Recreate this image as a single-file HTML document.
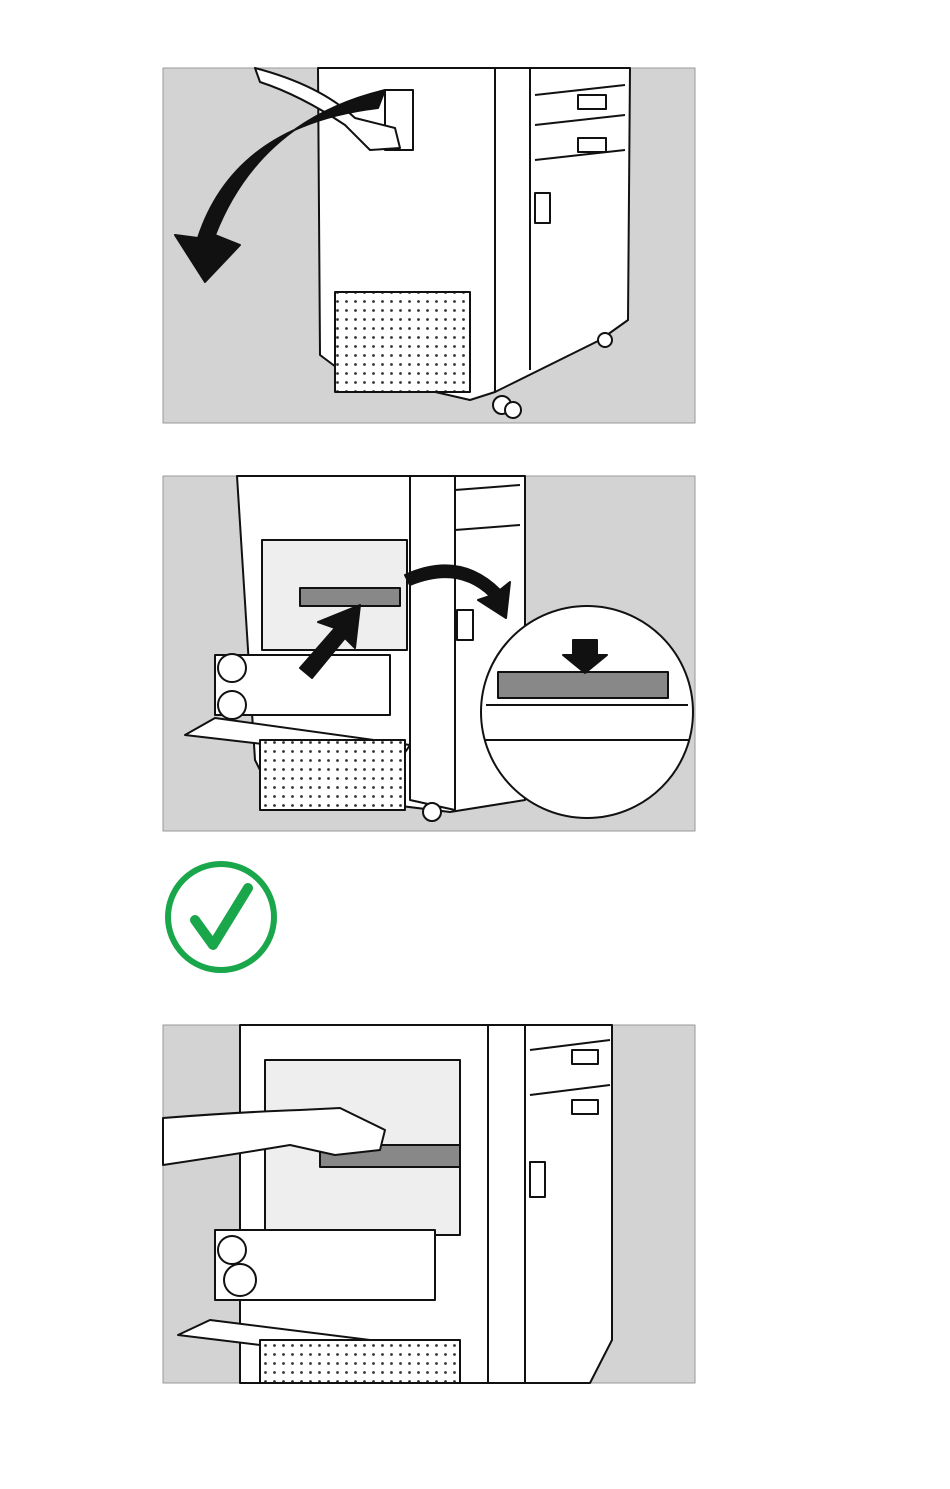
<!DOCTYPE html>
<html><head><meta charset="utf-8"><style>
html,body{margin:0;padding:0;background:#fff;}
svg{display:block;}
</style></head><body>
<svg width="950" height="1489" viewBox="0 0 950 1489" xmlns="http://www.w3.org/2000/svg">
<defs>
<pattern id="dots" width="9" height="9" patternUnits="userSpaceOnUse"><rect width="9" height="9" fill="#fff"/><circle cx="4.5" cy="4.5" r="1.4" fill="#333"/></pattern>
</defs>
<g stroke="#111" stroke-width="2" fill="#fff" stroke-linejoin="round">

<!-- PANEL 1 -->
<rect x="163" y="68" width="532" height="355" fill="#d3d3d3" stroke="#999" stroke-width="1"/>
<path d="M318 68 L495 68 L495 392 L470 400 L340 370 L320 355 Z"/>
<path d="M495 68 L630 68 L628 320 L600 340 L495 392 Z"/>
<path d="M530 68 L530 370" fill="none"/>
<path d="M535 95 L625 85 M535 125 L625 115 M535 160 L625 150" fill="none"/>
<rect x="578" y="95" width="28" height="14"/><rect x="578" y="138" width="28" height="14"/>
<rect x="535" y="193" width="15" height="30"/>
<rect x="335" y="292" width="135" height="100" fill="url(#dots)"/>
<rect x="385" y="90" width="28" height="60"/>
<circle cx="502" cy="405" r="9"/><circle cx="513" cy="410" r="8"/>
<circle cx="605" cy="340" r="7"/>
<!-- arm -->
<path d="M255 68 Q320 85 355 118 L395 128 L400 148 L370 150 L345 125 Q300 95 260 82 Z"/>
<!-- arrow 1 -->
<path d="M385 90 Q260 120 215 235 L240 245 L205 282 L175 235 L198 238 Q235 125 378 108 Z" fill="#111"/>

<!-- PANEL 2 -->
<rect x="163" y="476" width="532" height="355" fill="#d3d3d3" stroke="#999" stroke-width="1"/>
<path d="M237 476 L525 476 L525 800 L450 812 L270 790 L255 760 Z"/>
<path d="M410 476 L455 476 L455 810 L410 800 Z"/>
<path d="M455 490 L520 485 M455 530 L520 525" fill="none"/>
<rect x="262" y="540" width="145" height="110" fill="#eee"/>
<rect x="300" y="588" width="100" height="18" fill="#888"/>
<path d="M185 735 L400 760 L410 745 L215 718 Z"/>
<rect x="215" y="655" width="175" height="60"/>
<circle cx="232" cy="668" r="14"/><circle cx="232" cy="705" r="14"/>
<rect x="260" y="740" width="145" height="70" fill="url(#dots)"/>
<circle cx="432" cy="812" r="9"/>
<rect x="457" y="610" width="16" height="30"/>
<path d="M300 668 L335 628 L318 622 L360 605 L355 648 L345 638 L312 678 Z" fill="#111"/>
<path d="M405 575 Q460 550 500 590 L510 582 L506 618 L478 600 L490 596 Q458 565 410 585 Z" fill="#111"/>
<circle cx="587" cy="712" r="106"/>
<rect x="498" y="672" width="170" height="26" fill="#888"/>
<path d="M486 705 L688 705 M484 740 L690 740" fill="none"/>
<path d="M573 640 L597 640 L597 655 L607 655 L585 673 L563 655 L573 655 Z" fill="#111"/>

<!-- PANEL 3 -->
<rect x="163" y="1025" width="532" height="358" fill="#d3d3d3" stroke="#999" stroke-width="1"/>
<path d="M240 1025 L525 1025 L525 1383 L240 1383 Z"/>
<path d="M488 1025 L525 1025 L525 1383 L488 1383 Z"/>
<path d="M525 1025 L612 1025 L612 1340 L590 1383 L525 1383 Z"/>
<path d="M530 1050 L610 1040 M530 1095 L610 1085" fill="none"/>
<rect x="572" y="1050" width="26" height="14"/><rect x="572" y="1100" width="26" height="14"/>
<rect x="530" y="1162" width="15" height="35"/>
<rect x="265" y="1060" width="195" height="175" fill="#eee"/>
<rect x="320" y="1145" width="140" height="22" fill="#888"/>
<path d="M178 1335 L400 1362 L410 1345 L210 1320 Z"/>
<rect x="215" y="1230" width="220" height="70"/>
<circle cx="232" cy="1250" r="14"/><circle cx="240" cy="1280" r="16"/>
<rect x="260" y="1340" width="200" height="43" fill="url(#dots)"/>
<path d="M163 1118 Q240 1112 300 1110 L340 1108 L385 1130 L380 1150 L335 1155 L290 1145 Q230 1155 163 1165 Z"/>
</g>

<!-- check mark -->
<circle cx="221" cy="917" r="53" fill="none" stroke="#1aa64a" stroke-width="6"/>
<path d="M195 920 L213 945 L248 888" fill="none" stroke="#1aa64a" stroke-width="10" stroke-linecap="round" stroke-linejoin="round"/>
</svg>
</body></html>
